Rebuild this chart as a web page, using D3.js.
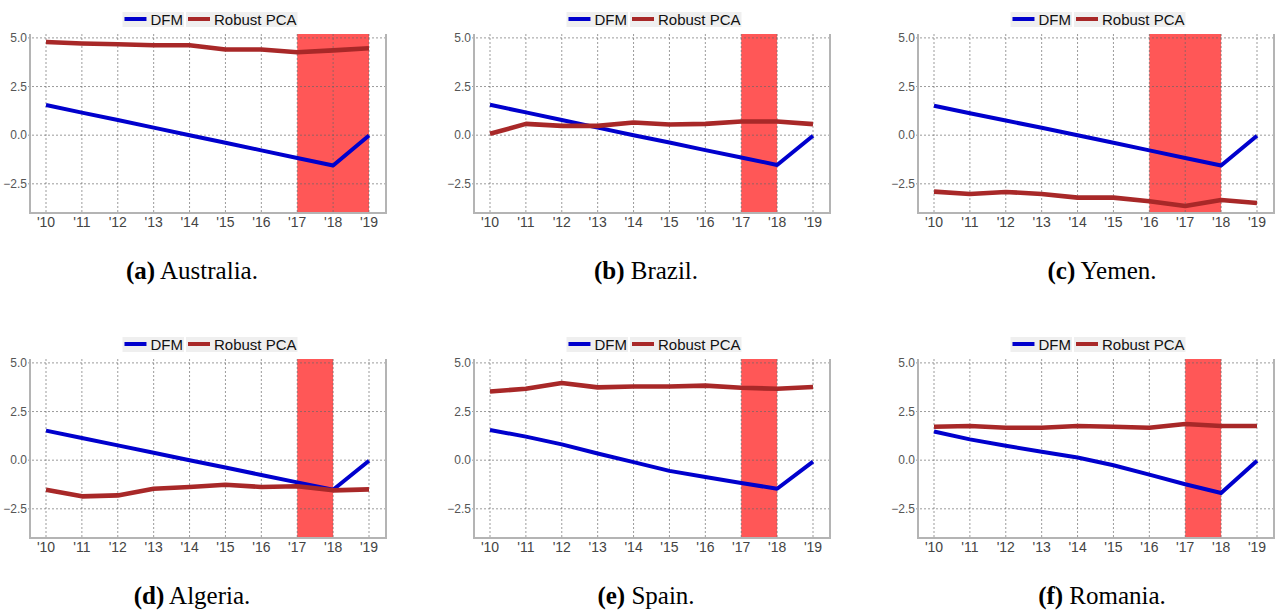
<!DOCTYPE html>
<html>
<head>
<meta charset="utf-8">
<script src="https://cdn.jsdelivr.net/npm/d3@7"></script>
<style>
  body { margin: 0; background: #fff; }
  svg { display: block; }
</style>
</head>
<body>
<svg width="1278" height="614"></svg>
<script>
// data
var years = ["'10", "'11", "'12", "'13", "'14", "'15", "'16", "'17", "'18", "'19"];
var yTicks = [5.0, 2.5, 0.0, -2.5];
var seriesNames = ["DFM", "Robust PCA"];
var letters = ["(a)", "(b)", "(c)", "(d)", "(e)", "(f)"];
var countries = ["Australia", "Brazil", "Yemen", "Algeria", "Spain", "Romania"];

var dfmAustralia = [1.55, 1.16, 0.78, 0.39, 0.00, -0.39, -0.78, -1.17, -1.56, -0.02];
var pcaAustralia = [4.79, 4.71, 4.67, 4.62, 4.62, 4.40, 4.40, 4.26, 4.36, 4.47];
var dfmBrazil = [1.56, 1.17, 0.78, 0.39, 0.00, -0.38, -0.77, -1.15, -1.53, -0.03];
var pcaBrazil = [0.07, 0.58, 0.48, 0.48, 0.65, 0.55, 0.58, 0.70, 0.70, 0.57];
var dfmYemen = [1.51, 1.13, 0.75, 0.38, 0.00, -0.39, -0.78, -1.17, -1.56, -0.03];
var pcaYemen = [-2.90, -3.02, -2.92, -3.02, -3.21, -3.21, -3.40, -3.64, -3.33, -3.49];
var dfmAlgeria = [1.52, 1.14, 0.76, 0.38, 0.00, -0.38, -0.76, -1.14, -1.52, -0.03];
var pcaAlgeria = [-1.52, -1.86, -1.81, -1.47, -1.38, -1.26, -1.38, -1.34, -1.55, -1.50];
var dfmSpain = [1.55, 1.21, 0.81, 0.34, -0.10, -0.55, -0.86, -1.17, -1.47, -0.07];
var pcaSpain = [3.53, 3.67, 3.97, 3.74, 3.79, 3.79, 3.83, 3.72, 3.67, 3.76];
var dfmRomania = [1.47, 1.07, 0.74, 0.43, 0.14, -0.26, -0.74, -1.24, -1.69, -0.03];
var pcaRomania = [1.72, 1.76, 1.67, 1.67, 1.76, 1.72, 1.67, 1.86, 1.76, 1.76];

var bandStart = ["'17", "'17", "'16", "'17", "'17", "'17"];
var bandEnd = ["'19", "'18", "'18", "'18", "'18", "'18"];

var dfmAll = [dfmAustralia, dfmBrazil, dfmYemen, dfmAlgeria, dfmSpain, dfmRomania];
var pcaAll = [pcaAustralia, pcaBrazil, pcaYemen, pcaAlgeria, pcaSpain, pcaRomania];

// layout
var colLeft = [30, 474, 918];
var capCenter = [192, 646, 1102];
var rowTop = [34, 359];
var plotW = 356, plotH = 179;
var colors = ["#0000cd", "#a82828"];
var widths = [4, 4.6];

var svg = d3.select("svg");

countries.forEach(function(c, i){
    var col = i % 3, row = Math.floor(i / 3);
    var left = colLeft[col], top = rowTop[row];
    var g = svg.append("g").attr("transform", "translate(" + left + "," + top + ")");

    var x = d3.scalePoint().domain(years).range([16, plotW - 17]);
    var y = d3.scaleLinear().domain([-4, 5.2]).range([plotH, 0]);

    // highlighted period
    g.append("rect")
        .attr("x", x(bandStart[i])).attr("y", 0)
        .attr("width", x(bandEnd[i]) - x(bandStart[i])).attr("height", plotH)
        .attr("fill", "#ff5757");

    // grid
    g.selectAll(".hg").data(yTicks).enter().append("line")
        .attr("x1", -2).attr("x2", plotW)
        .attr("y1", function(d){ return y(d); }).attr("y2", function(d){ return y(d); })
        .attr("stroke", "#666").attr("stroke-opacity", 0.65).attr("stroke-dasharray", "2,2");
    g.selectAll(".vg").data(years).enter().append("line")
        .attr("x1", function(d){ return x(d); }).attr("x2", function(d){ return x(d); })
        .attr("y1", 0).attr("y2", plotH)
        .attr("stroke", "#666").attr("stroke-opacity", 0.65).attr("stroke-dasharray", "2,2");

    // frame: left, bottom, right
    g.append("path")
        .attr("d", "M0,0V" + plotH + "H" + plotW + "V0")
        .attr("fill", "none").attr("stroke", "#b4b4b4").attr("stroke-width", 2);

    // tick labels
    g.selectAll(".yl").data(yTicks).enter().append("text")
        .attr("x", -3).attr("y", function(d){ return y(d); }).attr("dy", "0.36em")
        .attr("text-anchor", "end").attr("font-family", "Liberation Sans, Arial, sans-serif")
        .attr("font-size", "12px").attr("fill", "#555")
        .text(function(d){ return d3.format(".1f")(d); });
    g.selectAll(".xl").data(years).enter().append("text")
        .attr("x", function(d){ return x(d); }).attr("y", plotH + 14)
        .attr("text-anchor", "middle").attr("font-family", "Liberation Sans, Arial, sans-serif")
        .attr("font-size", "14px").attr("fill", "#444")
        .text(function(d){ return d; });

    // lines
    var line = d3.line()
        .x(function(d, k){ return x(years[k]); })
        .y(function(d){ return y(d); });
    [dfmAll[i], pcaAll[i]].forEach(function(vals, s){
        g.append("path").datum(vals)
            .attr("d", line).attr("fill", "none")
            .attr("stroke", colors[s]).attr("stroke-width", widths[s])
            .attr("stroke-linejoin", "round");
    });

    // legend
    var lg = g.append("g");
    var cursor = 0;
    seriesNames.forEach(function(name, s){
        var e = lg.append("g");
        var box = e.append("rect").attr("y", -7).attr("height", 15).attr("fill", "#efefef");
        e.append("line").attr("x1", 2).attr("x2", 24).attr("y1", 0).attr("y2", 0)
            .attr("stroke", colors[s]).attr("stroke-width", 4);
        var t = e.append("text").attr("x", 28).attr("y", 6)
            .attr("font-family", "Liberation Sans, Arial, sans-serif")
            .attr("font-size", "15px").attr("fill", "#111").text(name);
        var w = 29 + t.node().getComputedTextLength();
        box.attr("width", w);
        e.attr("transform", "translate(" + cursor + ",0)");
        cursor += w + 2;
    });
    var total = cursor - 2;
    lg.attr("transform", "translate(" + (plotW / 2 + 2 - total / 2) + ",-15)");

    // caption
    var cap = svg.append("text")
        .attr("x", capCenter[col]).attr("y", top + 245)
        .attr("text-anchor", "middle")
        .attr("font-family", "Liberation Serif, Times New Roman, serif")
        .attr("font-size", "25px").attr("fill", "#000");
    cap.append("tspan").attr("font-weight", "bold").text(letters[i]);
    cap.append("tspan").text(" " + c + ".");
});
</script>
</body>
</html>
